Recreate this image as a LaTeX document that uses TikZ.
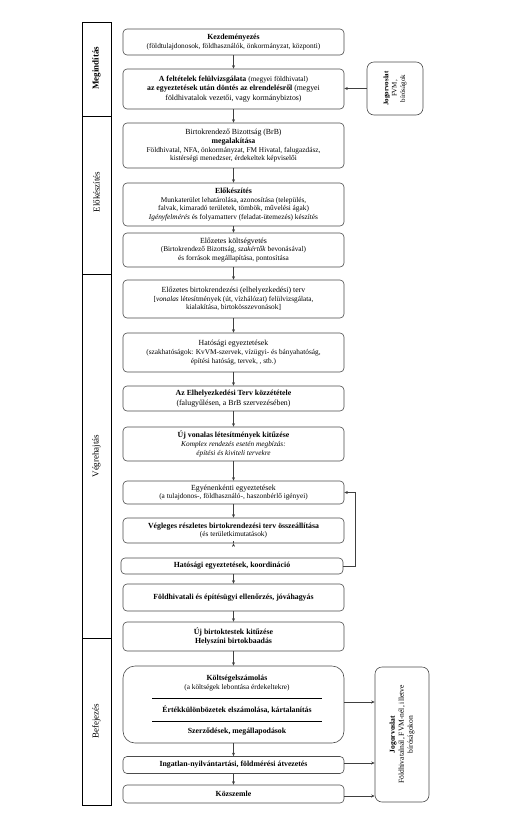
\documentclass[tikz,border=0pt]{standalone}
\usepackage{fontspec}
\setmainfont{Liberation Serif}
\usetikzlibrary{arrows.meta}
\newcommand{\smf}{\fontsize{7.3}{8.8}\selectfont}
\newcommand{\tif}{\fontsize{7.8}{9.6}\selectfont}
\tikzset{
  mbox/.style={draw=black!70, line width=0.6pt, rounded corners=4pt, fill=white,
    minimum width=221pt, align=center, inner sep=1pt, font=\tif},
  jbox/.style={draw=black!70, line width=0.6pt, rounded corners=7pt, fill=white,
    align=center, inner sep=1pt, font=\fontsize{7}{8.4}\selectfont, rotate=90},
  arr/.style={draw=black!75, line width=0.5pt, -{Stealth[length=3.5pt,width=3pt]}},
  phase/.style={rotate=90, font=\fontsize{9}{10.8}\selectfont},
  frame/.style={draw=black, line width=0.9pt}
}
\begin{document}
\begin{tikzpicture}[x=1pt,y=-1pt]
\useasboundingbox (0,0) rectangle (506,825);
% phase column
\draw[frame] (82,22) rectangle (111,805);
\draw[frame] (82,116) -- (111,116);
\draw[frame] (82,274) -- (111,274);
\draw[frame] (82,638) -- (111,638);
\node[phase,font=\fontsize{9}{10.8}\selectfont\bfseries] (p1) at (96.5,68) {Megindítás};
\node[phase] (p2) at (96.5,192) {Előkészítés};
\node[phase] (p3) at (96.5,456) {Végrehajtás};
\node[phase] (p4) at (96.5,721) {Befejezés};

% main boxes
\node[mbox, minimum height=26pt] (b1) at (233.5,42) {\textbf{Kezdeményezés}\\[-1pt]{\smf (földtulajdonosok, földhasználók, önkormányzat, központi)}};
\node[mbox, minimum height=40pt] (b2) at (233.5,89) {\textbf{A feltételek felülvizsgálata} {\smf (megyei földhivatal)}\\ \textbf{az egyeztetések után döntés az elrendelésről} (megyei\\ földhivatalok vezetői, vagy kormánybiztos)};
\node[mbox, minimum height=45pt] (b3) at (233.5,145.5) {Birtokrendező Bizottság (BrB)\\ \textbf{megalakítása}\\[-1pt] {\smf Földhivatal, NFA, önkormányzat, FM Hivatal, falugazdász,}\\[-1pt] {\smf kistérségi menedzser, érdekeltek képviselői}};
\node[mbox, minimum height=43pt] (b4) at (233.5,204.5) {\textbf{Előkészítés}\\[-1pt] {\smf Munkaterület lehatárolása, azonosítása (település,}\\[-1pt] {\smf falvak, kimaradó területek, tömbök, művelési ágak)}\\[-1pt] {\smf \textit{Igényfelmérés} és folyamatterv (feladat-ütemezés) készítés}};
\node[mbox, minimum height=34pt] (b5) at (233.5,250) {Előzetes költségvetés\\[-1pt] {\smf (Birtokrendező Bizottság, \textit{szakértők} bevonásával)}\\[-1pt] {\smf és források megállapítása, pontosítása}};
\node[mbox, minimum height=38pt] (b6) at (233.5,299) {Előzetes birtokrendezési (elhelyezkedési) terv\\[-1pt] {\smf [\textit{vonalas} létesítmények (út, vízhálózat) felülvizsgálata,}\\[-1pt] {\smf kialakítása, birtokösszevonások]}};
\node[mbox, minimum height=39pt] (b7) at (233.5,352.5) {Hatósági egyeztetések\\[-1pt] {\smf (szakhatóságok: KvVM-szervek, vízügyi- és bányahatóság,}\\[-1pt] {\smf építési hatóság, tervek, , stb.)}};
\node[mbox, minimum height=25pt] (b8) at (233.5,398.5) {\textbf{Az Elhelyezkedési Terv közzététele}\\ (falugyűlésen, a BrB szervezésében)};
\node[mbox, minimum height=34pt] (b9) at (233.5,444) {\textbf{Új vonalas létesítmények kitűzése}\\[-1pt] {\smf\itshape Komplex rendezés esetén megbízás:}\\[-1pt] {\smf\itshape építési és kiviteli tervekre}};
\node[mbox, minimum height=23pt] (b10) at (233.5,492.5) {Egyénenkénti egyeztetések\\[-1pt] {\smf (a tulajdonos-, földhasználó-, haszonbérlő igényei)}};
\node[mbox, minimum height=25pt] (b11) at (233.5,530.5) {\textbf{Végleges részletes birtokrendezési terv összeállítása}\\[-1pt] {\smf (és területkimutatások)}};
\node[mbox, minimum height=16pt, minimum width=222pt] (b12) at (232,566) {\textbf{Hatósági egyeztetések, koordináció}};
\node[mbox, minimum height=27pt] (b13) at (233.5,597.5) {\textbf{Földhivatali és építésügyi ellenőrzés, jóváhagyás}};
\node[mbox, minimum height=29pt] (b14) at (233.5,636.5) {\textbf{Új birtoktestek kitűzése}\\ \textbf{Helyszíni birtokbaadás}};
\node[mbox, minimum height=77pt, rounded corners=12pt] (b15) at (233.5,704.5) {};
\node[font=\tif, align=center, inner sep=0pt] (k1) at (237,683) {\textbf{Költségelszámolás}\\[-1pt] {\smf (a költségek lebontása érdekeltekre)}};
\draw[frame] (152,698) -- (322,698);
\node[font=\tif, inner sep=0pt] (k2) at (237,710) {\textbf{Értékkülönbözetek elszámolása, kártalanítás}};
\draw[frame] (152,721) -- (322,721);
\node[font=\tif, inner sep=0pt] (k3) at (237,732) {\textbf{Szerződések, megállapodások}};
\node[mbox, minimum height=17pt] (b16) at (233.5,765) {\textbf{Ingatlan-nyilvántartási, földmérési átvezetés}};
\node[mbox, minimum height=18pt] (b17) at (233.5,794) {\textbf{Közszemle}};

% main flow arrows
\foreach \a/\b in {b1/b2,b2/b3,b3/b4,b4/b5,b5/b6,b6/b7,b7/b8,b8/b9,b9/b10,b10/b11,b13/b14,b14/b15,b15/b16,b16/b17}
  \draw[arr] (\a.south) -- (\a.south |- \b.north);
\draw[arr] (b11.south -| b10.south) -- (b11.south -| b10.south |- b12.north);
\draw[arr] (b12.south -| b13.north) -- (b13.north);

% feedback loop
\draw[arr] (b12.east) -- ++(12,0) |- (b10.east);

% Jogorvoslat boxes
\node[jbox, minimum width=53pt, minimum height=56pt] (j1) at (395,88.5) {\textbf{Jogorvoslat}\\ FVM,\\ bíróságok};
\node[jbox, minimum width=135pt, minimum height=54pt, font=\fontsize{7.6}{9}\selectfont] (j2) at (402,734.5) {\textbf{Jogorvoslat}\\ Földhivatalnál, FVM-nél, illetve\\ bíróságokon};
\draw[arr] (j1.north) -- (j1.north -| b2.east);
\draw[arr] ([yshift=2.5pt]b15.east) -- ([yshift=2.5pt]b15.east -| j2.north);
\draw[arr] ([yshift=2pt]b16.east) -- ([yshift=2pt]b16.east -| j2.north);
\draw[arr] ([yshift=-2pt]b17.east) -- ([yshift=-2pt]b17.east -| j2.north);
\end{tikzpicture}
\end{document}
